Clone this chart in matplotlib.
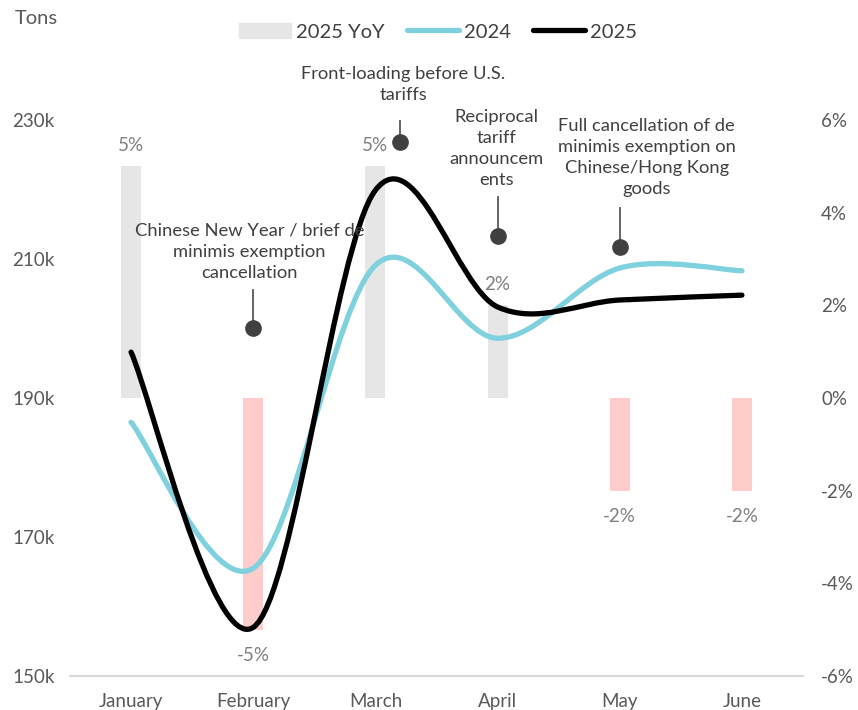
import numpy as np
import matplotlib.pyplot as plt
from matplotlib.path import Path
from matplotlib.patches import PathPatch, Patch
from matplotlib.lines import Line2D

plt.rcParams['font.family'] = ['Lato', 'DejaVu Sans']

months = ['January', 'February', 'March', 'April', 'May', 'June']
tons_2024 = [186.5, 165.5, 209.1, 198.6, 208.7, 208.3]   # thousand tons
tons_2025 = [196.6, 157.0, 219.9, 203.1, 204.1, 204.8]
yoy_2025 = [5, -5, 5, 2, -2, -2]                           # percent

notes = ['Chinese New Year / brief de\nminimis exemption\ncancellation',
         'Front-loading before U.S.\ntariffs',
         'Reciprocal\ntariff\nannouncem\nents',
         'Full cancellation of de\nminimis exemption on\nChinese/Hong Kong\ngoods']
note_x = [1.0, 2.2, 3.0, 4.0]
note_y = [200.0, 226.8, 213.3, 211.7]
note_tx = [0.97, 2.23, 2.99, 4.22]
note_ty = [206.9, 232.4, 220.2, 218.9]

c_2024 = '#7fd1de'
c_2025 = '#000000'
c_pos = '#e6e6e6'
c_neg = '#ffcccc'
c_txt = '#595959'


def smooth_path(xs, ys):
    # excel-style smoothed line: cubic bezier through every point
    pts = np.column_stack([xs, ys]).astype(float)
    ext = np.vstack([pts[0], pts, pts[-1]])
    verts = [pts[0]]
    codes = [Path.MOVETO]
    for i in range(len(pts) - 1):
        p0, p1, p2, p3 = ext[i], ext[i + 1], ext[i + 2], ext[i + 3]
        c1 = p1 + (p2 - p0) / 6.0
        c2 = p2 - (p3 - p1) / 6.0
        verts += [c1, c2, p2]
        codes += [Path.CURVE4] * 3
    return Path(verts, codes)


fig = plt.figure(figsize=(8.58, 7.10), dpi=100)
ax = fig.add_axes([70 / 858, 34 / 710, 733 / 858, 556 / 710])
x = np.arange(len(months))

# YoY bars on the percent scale (right side)
colors = [c_pos if v >= 0 else c_neg for v in yoy_2025]
ax.bar(x, yoy_2025, width=0.165, color=colors, zorder=1)
for xi, v in zip(x, yoy_2025):
    off = 0.45 if v >= 0 else -0.55
    ax.text(xi, v + off, f'{v}%', ha='center', va='center',
            fontsize=13.5, color='#7f7f7f')
ax.set_ylim(-6, 6)
ax.set_yticks(range(-6, 7, 2))
ax.set_yticklabels([f'{t}%' for t in range(-6, 7, 2)])
ax.set_xlim(-0.5, 5.5)
ax.set_xticks(x)
ax.set_xticklabels(months)
for s in ['top', 'left', 'right', 'bottom']:
    ax.spines[s].set_visible(False)

# tonnage lines on the left scale
ax2 = ax.twinx()
ax.yaxis.tick_right()
ax.tick_params(length=0, labelsize=13.5, labelcolor=c_txt, pad=12)
ax.tick_params(axis='y', pad=13)
ax2.set_ylim(150, 230)
ax2.set_yticks([150, 170, 190, 210, 230])
ax2.set_yticklabels([f'{t}k' for t in [150, 170, 190, 210, 230]])
ax2.yaxis.tick_left()
ax2.tick_params(length=0, labelsize=13.5, labelcolor=c_txt, pad=11)
for s in ['top', 'left', 'right', 'bottom']:
    ax2.spines[s].set_visible(False)
ax2.axhline(150, color='#d9d9d9', lw=1.5, zorder=2, clip_on=False)

for vals, col in [(tons_2024, c_2024), (tons_2025, c_2025)]:
    ax2.add_patch(PathPatch(smooth_path(x, vals), fill=False, edgecolor=col,
                            lw=3.8, capstyle='round', joinstyle='round', zorder=3))

# event callouts
for nx, ny, tx, ty, txt in zip(note_x, note_y, note_tx, note_ty, notes):
    ax2.plot(nx, ny, 'o', ms=11, color='#404040', zorder=5)
    ax2.plot([nx, nx], [ny + 1.1, ny + 5.6], color='#595959', lw=1.3, zorder=4)
    ax2.text(tx, ty, txt, ha='center', va='bottom', fontsize=13.2,
             color='#404040', linespacing=1.38, zorder=6)

fig.text(15 / 858, 1 - 18 / 710, 'Tons', fontsize=14.5, color=c_txt, va='center')

handles = [Patch(color=c_pos),
           Line2D([], [], color=c_2024, lw=3.8, solid_capstyle='round'),
           Line2D([], [], color=c_2025, lw=3.8, solid_capstyle='round')]
fig.legend(handles, ['2025 YoY', '2024', '2025'], loc='center',
           bbox_to_anchor=(438 / 858, 1 - 32 / 710), ncol=3, frameon=False,
           fontsize=14.5, handlelength=2.6, handletextpad=0.25, columnspacing=1.1,
           labelcolor='#404040')

fig.savefig('out.png', dpi=100)
